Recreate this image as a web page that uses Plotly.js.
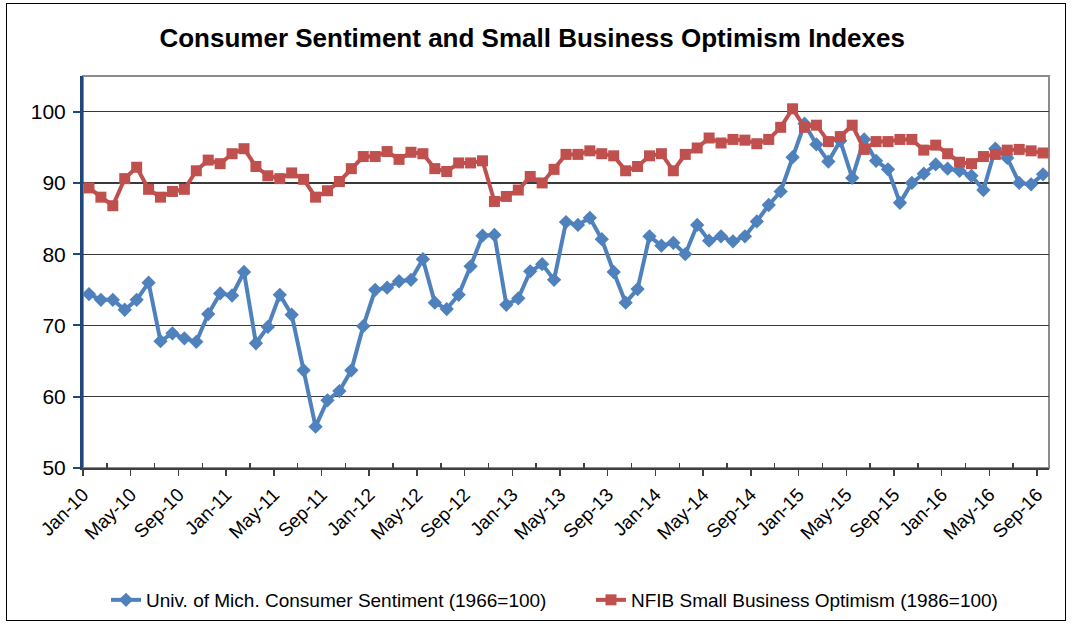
<!DOCTYPE html>
<html>
<head>
<meta charset="utf-8">
<script src="https://cdn.plot.ly/plotly-3.0.1.min.js"></script>
<style>
  html, body { margin: 0; padding: 0; background: #ffffff; }
  #wrap { position: relative; width: 1073px; height: 626px; }
  #chart { position: absolute; left: 0; top: 0; width: 1073px; height: 626px; }
  #frame { position: absolute; left: 6px; top: 3px; width: 1058px; height: 616px;
           border: 1px solid #000; pointer-events: none; }
</style>
</head>
<body>
<div id="wrap">
  <div id="chart"></div>
  <div id="frame"></div>
</div>
<script>
// Monthly categories, Jan-2010 .. Sep-2016
const categories = [
  'Jan-10','Feb-10','Mar-10','Apr-10','May-10','Jun-10','Jul-10','Aug-10','Sep-10','Oct-10','Nov-10','Dec-10',
  'Jan-11','Feb-11','Mar-11','Apr-11','May-11','Jun-11','Jul-11','Aug-11','Sep-11','Oct-11','Nov-11','Dec-11',
  'Jan-12','Feb-12','Mar-12','Apr-12','May-12','Jun-12','Jul-12','Aug-12','Sep-12','Oct-12','Nov-12','Dec-12',
  'Jan-13','Feb-13','Mar-13','Apr-13','May-13','Jun-13','Jul-13','Aug-13','Sep-13','Oct-13','Nov-13','Dec-13',
  'Jan-14','Feb-14','Mar-14','Apr-14','May-14','Jun-14','Jul-14','Aug-14','Sep-14','Oct-14','Nov-14','Dec-14',
  'Jan-15','Feb-15','Mar-15','Apr-15','May-15','Jun-15','Jul-15','Aug-15','Sep-15','Oct-15','Nov-15','Dec-15',
  'Jan-16','Feb-16','Mar-16','Apr-16','May-16','Jun-16','Jul-16','Aug-16','Sep-16'
];

// Univ. of Michigan Consumer Sentiment (1966=100)
const consumerSentiment = [
  74.4, 73.6, 73.6, 72.2, 73.6, 76.0, 67.8, 68.9, 68.2, 67.7, 71.6, 74.5,
  74.2, 77.5, 67.5, 69.8, 74.3, 71.5, 63.7, 55.8, 59.5, 60.8, 63.7, 69.9,
  75.0, 75.3, 76.2, 76.4, 79.3, 73.2, 72.3, 74.3, 78.3, 82.6, 82.7, 72.9,
  73.8, 77.6, 78.6, 76.4, 84.5, 84.1, 85.1, 82.1, 77.5, 73.2, 75.1, 82.5,
  81.2, 81.6, 80.0, 84.1, 81.9, 82.5, 81.8, 82.5, 84.6, 86.9, 88.8, 93.6,
  98.3, 95.4, 93.0, 95.9, 90.7, 96.1, 93.1, 91.9, 87.2, 90.0, 91.3, 92.6,
  92.0, 91.7, 91.0, 89.0, 94.8, 93.5, 90.0, 89.8, 91.2
];

// NFIB Small Business Optimism (1986=100)
const smallBusinessOptimism = [
  89.3, 88.0, 86.8, 90.6, 92.2, 89.1, 88.0, 88.8, 89.1, 91.7, 93.2, 92.7,
  94.1, 94.8, 92.3, 91.0, 90.6, 91.4, 90.5, 88.0, 88.9, 90.2, 92.0, 93.7,
  93.7, 94.4, 93.3, 94.3, 94.1, 92.0, 91.6, 92.8, 92.8, 93.1, 87.4, 88.1,
  89.0, 90.9, 90.0, 91.9, 94.0, 94.0, 94.5, 94.1, 93.8, 91.7, 92.3, 93.8,
  94.1, 91.7, 94.0, 94.9, 96.3, 95.6, 96.1, 96.0, 95.5, 96.1, 97.8, 100.4,
  97.8, 98.1, 95.8, 96.5, 98.1, 94.7, 95.8, 95.8, 96.1, 96.1, 94.6, 95.3,
  94.1, 92.9, 92.7, 93.7, 94.0, 94.6, 94.7, 94.5, 94.2
];

// Labelled (major) ticks, every 4 months
const tickLabels = ['Jan-10','May-10','Sep-10','Jan-11','May-11','Sep-11','Jan-12','May-12','Sep-12',
  'Jan-13','May-13','Sep-13','Jan-14','May-14','Sep-14','Jan-15','May-15','Sep-15','Jan-16','May-16','Sep-16'];
// Minor ticks, every 2 months (in between the labelled ones)
const minorLabels = ['Mar-10','Jul-10','Nov-10','Mar-11','Jul-11','Nov-11','Mar-12','Jul-12','Nov-12',
  'Mar-13','Jul-13','Nov-13','Mar-14','Jul-14','Nov-14','Mar-15','Jul-15','Nov-15','Mar-16','Jul-16'];

const seriesNames = ['Univ. of Mich. Consumer Sentiment (1966=100)', 'NFIB Small Business Optimism (1986=100)'];

const xIdx = categories.map((c, i) => i);
const majorVals = tickLabels.map(l => categories.indexOf(l) - 0.5);
const minorVals = minorLabels.map(l => categories.indexOf(l) - 0.5);

const FONT = 'Liberation Sans, Arial, sans-serif';
const BLUE = '#4F81BD';
const RED = '#C0504D';

const traces = [
  {
    x: xIdx, y: consumerSentiment, name: seriesNames[0], type: 'scatter', mode: 'lines+markers',
    line: { color: BLUE, width: 4 },
    marker: { symbol: 'diamond', size: 11, color: BLUE },
    hovertext: categories, hoverinfo: 'text+y'
  },
  {
    x: xIdx, y: smallBusinessOptimism, name: seriesNames[1], type: 'scatter', mode: 'lines+markers',
    line: { color: RED, width: 4 },
    marker: { symbol: 'square', size: 11, color: RED },
    hovertext: categories, hoverinfo: 'text+y'
  }
];

const layout = {
  width: 1073, height: 626,
  margin: { l: 83, r: 24, t: 76, b: 158 },
  paper_bgcolor: '#ffffff', plot_bgcolor: '#ffffff',
  font: { family: FONT, color: '#000000', size: 19 },
  title: {
    text: '<b>Consumer Sentiment and Small Business Optimism Indexes</b>',
    font: { family: FONT, size: 26, color: '#000000' },
    xref: 'container', x: 0.496, xanchor: 'center',
    yref: 'container', y: 0.94, yanchor: 'middle'
  },
  xaxis: {
    range: [-0.5, categories.length - 0.5],
    tickmode: 'array', tickvals: majorVals, ticktext: tickLabels,
    tickangle: -45,
    ticks: 'outside', ticklen: 6, tickwidth: 1.5, tickcolor: '#404040',
    minor: { tickmode: 'array', tickvals: minorVals, ticks: 'inside', ticklen: 5, tickwidth: 1.5, tickcolor: '#404040', showgrid: false },
    showline: true, linecolor: '#404040', linewidth: 2,
    showgrid: false, zeroline: false, automargin: false,
    tickfont: { family: FONT, size: 19, color: '#000' }
  },
  yaxis: {
    range: [50, 105],
    tick0: 50, dtick: 10,
    ticks: 'outside', ticklen: 7, tickwidth: 2, tickcolor: '#1F497D',
    ticklabelstandoff: 3,
    showline: true, linecolor: '#1F497D', linewidth: 3,
    showgrid: true, gridcolor: '#3a3a3a', gridwidth: 1.3,
    zeroline: false, automargin: false,
    tickfont: { family: FONT, size: 21, color: '#000' }
  },
  shapes: [
    { type: 'rect', xref: 'paper', yref: 'paper', x0: 0, x1: 1, y0: 0, y1: 1,
      line: { color: '#8c8c8c', width: 2 }, layer: 'below' }
  ],
  legend: {
    orientation: 'h',
    xref: 'container', x: 106 / 1073, xanchor: 'left',
    yref: 'container', y: 1 - 600 / 626, yanchor: 'middle',
    font: { family: FONT, size: 19, color: '#000' },
    bgcolor: 'rgba(0,0,0,0)', itemwidth: 30, entrywidth: 440
  },
  showlegend: true
};

Plotly.newPlot('chart', traces, layout, { displayModeBar: false, staticPlot: true });
</script>
</body>
</html>
